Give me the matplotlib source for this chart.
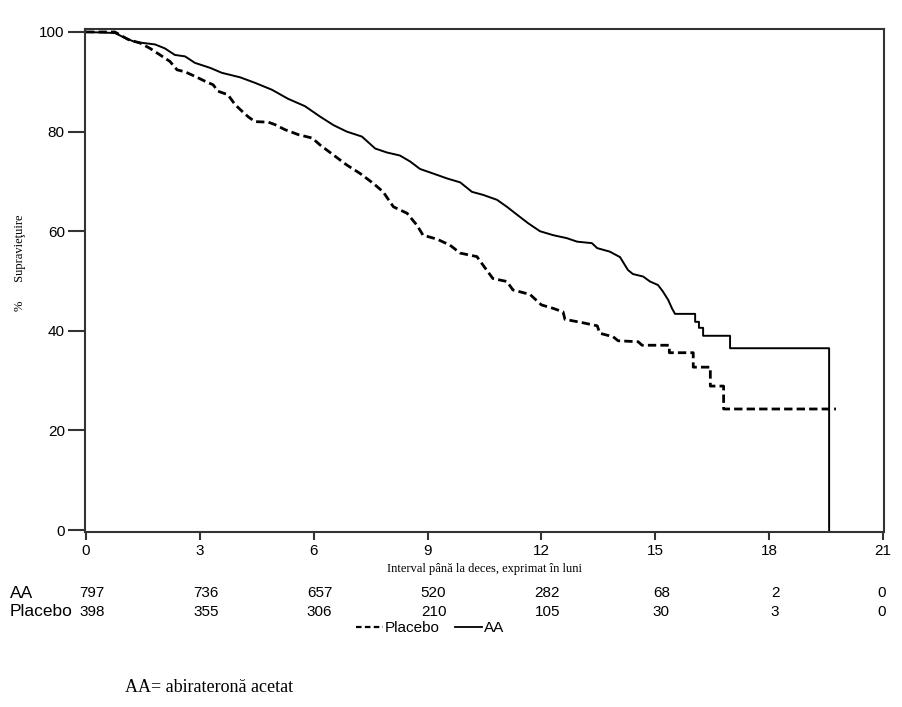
import matplotlib
matplotlib.use("Agg")
import matplotlib.pyplot as plt
from matplotlib.lines import Line2D

# ---- data (repeated x = vertical step) ----
aa_time = [0, 0.76, 1.03, 1.29, 1.82, 2.08, 2.34, 2.61, 2.87, 3.27, 3.58, 4.06, 4.45,
           4.9, 5.32, 5.77, 6.17, 6.52, 6.87, 7.27, 7.62, 7.93, 8.27, 8.54, 8.8, 9.14,
           9.51, 9.86, 10.17, 10.46, 10.83, 11.09, 11.36, 11.65, 11.96, 12.31, 12.67,
           12.94, 13.33, 13.47, 13.8, 14.07, 14.28, 14.41, 14.68, 14.86, 15.07, 15.2,
           15.34, 15.44, 15.52, 16.05, 16.05, 16.15, 16.15, 16.26, 16.26, 16.97, 16.97,
           19.58, 19.58]
aa_surv = [100, 99.8, 98.8, 98.0, 97.5, 96.7, 95.4, 95.1, 93.8, 92.8, 91.8, 90.9, 89.8,
           88.4, 86.6, 85.1, 83.0, 81.3, 80.0, 79.0, 76.6, 75.8, 75.2, 74.0, 72.5, 71.6,
           70.6, 69.8, 67.9, 67.3, 66.3, 64.9, 63.3, 61.6, 60.0, 59.2, 58.6,
           57.9, 57.6, 56.6, 55.9, 54.8, 52.2, 51.4, 50.9, 49.9, 49.2, 47.9,
           46.2, 44.5, 43.4, 43.4, 41.8, 41.8, 40.6, 40.6, 39.0, 39.0, 36.5,
           36.5, 0]

pl_time = [0, 0.76, 1.11, 1.42, 1.69, 1.95, 2.21, 2.4, 2.61, 2.87, 3.14, 3.35, 3.48,
           3.74, 3.93, 4.11, 4.27, 4.45, 4.8, 4.98, 5.24, 5.59, 5.96, 6.17, 6.52, 6.87,
           7.22, 7.57, 7.83, 8.1, 8.46, 8.72, 8.88, 9.25, 9.59, 9.86, 10.3, 10.46, 10.72,
           11.09, 11.25, 11.7, 12.0, 12.31, 12.57, 12.62, 13.1, 13.47, 13.54, 13.89,
           14.02, 14.55, 14.65, 15.37, 15.37, 16.0, 16.0, 16.45, 16.45, 16.8, 16.8, 19.76]
pl_surv = [100, 100, 98.5, 97.8, 96.7, 95.4, 94.1, 92.4, 92.0, 91.1, 90.1, 89.4, 88.1,
           87.4, 85.4, 84.1, 83.0, 82.0, 81.9, 81.4, 80.4, 79.4, 78.7, 77.3, 75.3, 73.3,
           71.6, 69.6, 67.9, 64.9, 63.6, 61.2, 59.2, 58.4, 57.2, 55.6, 54.9, 53.2, 50.5,
           49.9, 48.2, 47.3, 45.2, 44.5, 43.8, 42.3, 41.6, 41.0, 39.5, 38.8,
           38.0, 37.8, 37.1, 37.1, 35.6, 35.6, 32.7, 32.7, 28.9, 28.9, 24.3, 24.3]

xticks = [0, 3, 6, 9, 12, 15, 18, 21]
yticks = [0, 20, 40, 60, 80, 100]
risk_groups = ["AA", "Placebo"]
risk_aa = [797, 736, 657, 520, 282, 68, 2, 0]
risk_pl = [398, 355, 306, 210, 105, 30, 3, 0]

# ---- figure ----
W, H = 903, 707
fig = plt.figure(figsize=(W / 100, H / 100), dpi=100)
ax = fig.add_axes([85 / W, 1 - 532 / H, (884 - 85) / W, (532 - 29) / H])

ax.plot(aa_time, aa_surv, color="black", lw=1.4, label="AA")
ax.plot(pl_time, pl_surv, color="black", lw=2.0, dashes=(3.0, 1.5), label="Placebo")

ax.set_xlim(-0.026, 21.026)
ax.set_ylim(-0.4, 100.6)
ax.set_xticks(xticks)
ax.set_yticks(yticks)
sans = ["Liberation Sans", "DejaVu Sans"]
narrow = ["Liberation Sans Narrow", "Liberation Sans", "DejaVu Sans"]
serif = ["Liberation Serif", "DejaVu Serif"]
ax.set_xticklabels([str(v) for v in xticks], fontsize=11, family=sans)
ax.set_yticklabels([str(v) for v in yticks], fontsize=11, family=sans)
ax.tick_params(axis="y", length=12.5, width=1.5, color="#333333", pad=2)
ax.tick_params(axis="x", length=5.5, width=1.5, color="#333333", pad=3)
for s in ax.spines.values():
    s.set_linewidth(1.5)
    s.set_color("#333333")

# y label
fig.text(20 / W, 1 - 263 / H, "%      Supravieţuire", rotation=90, ha="center",
         va="center", fontsize=9, family=serif)
# x label
fig.text(485 / W, 1 - 569 / H, "Interval până la deces, exprimat în luni", ha="center",
         va="center", fontsize=9, family=serif)

# at-risk table
row_y = [593, 612]
for name, ry in zip(risk_groups, row_y):
    fig.text(10 / W, 1 - ry / H, name, ha="left", va="center", fontsize=12.5, family=narrow)
for vals, ry in zip([risk_aa, risk_pl], row_y):
    for xt, v in zip(xticks, vals):
        px = 86 + xt * 37.95 + 6
        if xt == 21:
            px = 882
        fig.text(px / W, 1 - ry / H, str(v), ha="center", va="center", fontsize=11,
                 family=narrow)

# legend
handles = [Line2D([], [], color="black", lw=1.6, dashes=(2.5, 1.5)),
           Line2D([], [], color="black", lw=1.3)]
fig.legend(handles, ["Placebo", "AA"], loc="center", bbox_to_anchor=(430 / W, 1 - 628 / H),
           ncol=2, frameon=False, handlelength=1.8, handletextpad=0.1, columnspacing=1.0,
           prop={"family": narrow, "size": 11})

# footnote
fig.text(125 / W, 1 - 688 / H, "AA= abirateronă acetat", ha="left", va="center",
         fontsize=13, family=serif)

fig.savefig("out.png", dpi=100)
